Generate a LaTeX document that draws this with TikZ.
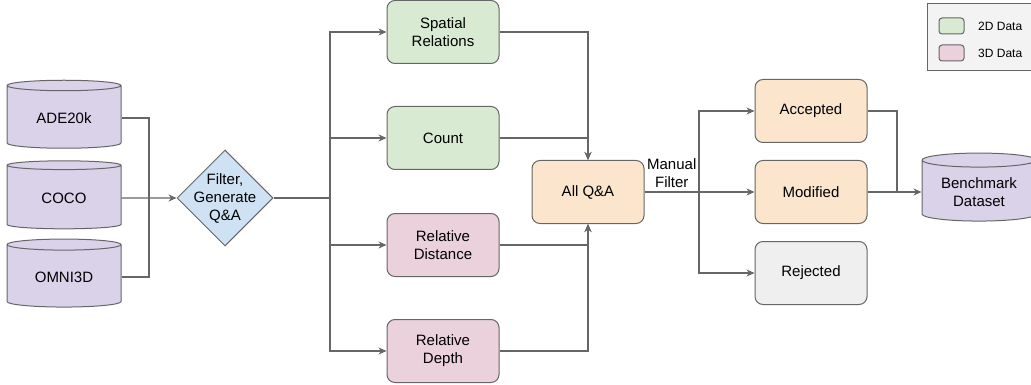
\documentclass[tikz,border=0pt]{standalone}
\usepackage{fontspec}
\setmainfont{Liberation Sans}
\usetikzlibrary{positioning, arrows.meta, shapes.geometric}

\definecolor{green2d}{HTML}{D9EAD3}
\definecolor{pink3d}{HTML}{EAD1DC}
\definecolor{purpledb}{HTML}{D9D2E9}
\definecolor{bluestep}{HTML}{CFE2F3}
\definecolor{orangeqa}{HTML}{FCE5CD}
\definecolor{greyrej}{HTML}{EFEFEF}
\definecolor{greylegend}{HTML}{F3F3F3}
\definecolor{edgegrey}{HTML}{666666}

\begin{document}
\begin{tikzpicture}
    [
        x=1pt, y=-1pt, on grid, >={Stealth[length=8pt, width=7pt]},
        font=\fontsize{15pt}{18pt}\selectfont,
        box_node/.style={rectangle, rounded corners=8pt, draw=edgegrey, line width=1pt, minimum width=112pt, minimum height=63pt, align=center},
        green_node/.style={box_node, fill=green2d},
        pink_node/.style={box_node, fill=pink3d},
        orange_node/.style={box_node, fill=orangeqa},
        grey_node/.style={box_node, fill=greyrej},
        db_node/.style={cylinder, shape border rotate=90, aspect=0.17, draw=edgegrey, line width=1pt, fill=purpledb, minimum width=114pt, minimum height=68pt, align=center},
        decision_node/.style={diamond, aspect=1, draw=edgegrey, line width=1pt, fill=bluestep, minimum width=96pt, minimum height=96pt, inner sep=0pt},
        legend_node/.style={rectangle, draw=edgegrey, line width=1pt, fill=greylegend, minimum width=110pt, minimum height=67pt},
        swatch_node/.style={rectangle, rounded corners=3pt, draw=edgegrey, line width=1pt, minimum width=25pt, minimum height=16pt},
        key_text/.style={anchor=west, inner sep=0pt, font=\fontsize{12pt}{14pt}\selectfont},
        link_line/.style={line width=1.2pt, color=edgegrey},
        link_arrow/.style={->, line width=1.2pt, color=edgegrey},
    ]
        \useasboundingbox (0,0) rectangle (1031,385) ;
        % sources
        \node[db_node] (coco) at (64,198) {COCO} ;
        \node[db_node] (ade) [above = 80pt of coco] {ADE20k} ;
        \node[db_node] (omni) [below = 79pt of coco] {OMNI3D} ;
        \coordinate[right = 85pt of coco] (merge) ;
        \node[decision_node, label={[align=center]center:Filter,\\Generate\\Q\&A}] (filter) [right = 161pt of coco] {} ;
        \coordinate[right = 105pt of filter] (split) ;
        % question types
        \node[green_node] (count) [above right = 60pt and 218pt of filter] {Count} ;
        \node[green_node] (spatial) [above = 106pt of count] {Spatial\\Relations} ;
        \node[pink_node] (dist) [below = 107pt of count] {Relative\\Distance} ;
        \node[pink_node] (depth) [below = 106pt of dist] {Relative\\Depth} ;
        \node[orange_node] (allqa) [below right = 54pt and 145pt of count] {All Q\&A} ;
        % manual filter
        \coordinate[right = 111pt of allqa] (fork) ;
        \node[orange_node] (modified) [right = 223pt of allqa] {Modified} ;
        \node[orange_node] (accepted) [above = 81pt of modified] {Accepted} ;
        \node[grey_node] (rejected) [below = 81pt of modified] {Rejected} ;
        \coordinate[right = 86pt of modified] (join) ;
        \node[db_node] (bench) [right = 168pt of modified] {Benchmark\\Dataset} ;
        % legend
        \node[legend_node] (legend) at (982,37.5) {} ;
        \node[swatch_node, fill=green2d] (key2d) at (951.5,26) {} ;
        \node[swatch_node, fill=pink3d] (key3d) [below = 27pt of key2d] {} ;
        \node[key_text] (text2d) at (978,26) {2D Data} ;
        \node[key_text] (text3d) at (978,53) {3D Data} ;
        % connectors
        \draw[link_line] (ade) -| (merge) |- (omni) ;
        \draw[link_arrow] (coco) -- (filter) ;
        \draw[link_line] (filter) -- (split) ;
        \draw[link_arrow] (split) |- (spatial) ;
        \draw[link_arrow] (split) |- (count) ;
        \draw[link_arrow] (split) |- (dist) ;
        \draw[link_arrow] (split) |- (depth) ;
        \draw[link_arrow] (spatial) -| (allqa) ;
        \draw[link_arrow] (count) -| (allqa) ;
        \draw[link_arrow] (depth) -| (allqa) ;
        \draw[link_arrow] (dist) -| (allqa) ;
        \draw[link_line] (allqa) -- node[above, align=center, text=black] (mf) {Manual\\Filter} (fork) ;
        \draw[link_arrow] (fork) |- (accepted) ;
        \draw[link_arrow] (fork) |- (modified) ;
        \draw[link_arrow] (fork) |- (rejected) ;
        \draw[link_line] (accepted) -| (join) ;
        \draw[link_arrow] (modified) -- (bench) ;
    \end{tikzpicture}
\end{document}
